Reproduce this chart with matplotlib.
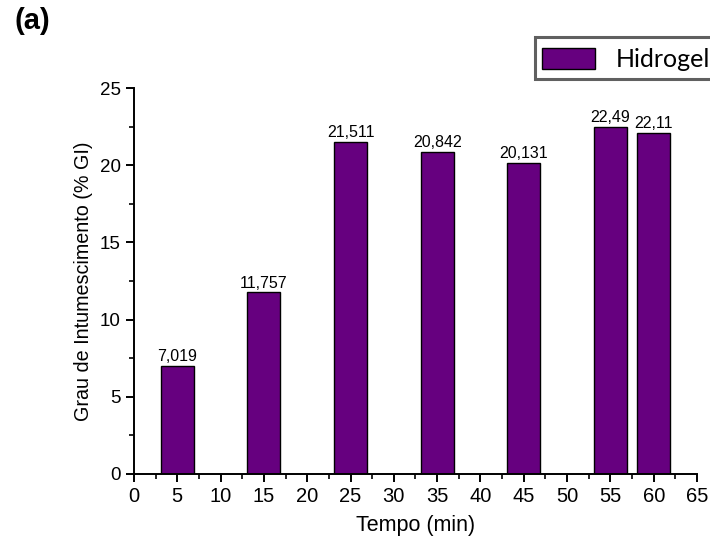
import matplotlib.pyplot as plt
from matplotlib.patches import Patch, Rectangle
from matplotlib.ticker import MultipleLocator

# Swelling degree of the hydrogel over time
tempo = [5, 15, 25, 35, 45, 55, 60]
grau = [7.019, 11.757, 21.511, 20.842, 20.131, 22.49, 22.11]
rotulos = ["7,019", "11,757", "21,511", "20,842", "20,131", "22,49", "22,11"]

plt.rcParams["font.family"] = ["Liberation Sans", "DejaVu Sans"]

W, H = 710, 538
fig = plt.figure(figsize=(W / 100, H / 100), dpi=100)
ax = fig.add_axes([0.1887, 0.119, 0.7930, 0.7174])

cor = "#66007f"
ax.bar(tempo, grau, width=3.8, color=cor, edgecolor="black", linewidth=1.0)

for x, y, txt in zip(tempo, grau, rotulos):
    ax.text(x, y + 0.12, txt, ha="center", va="bottom", fontsize=11.5)

ax.set_xlim(0, 65)
ax.set_ylim(0, 25)
ax.xaxis.set_major_locator(MultipleLocator(5))
ax.xaxis.set_minor_locator(MultipleLocator(2.5))
ax.yaxis.set_major_locator(MultipleLocator(5))
ax.yaxis.set_minor_locator(MultipleLocator(2.5))

for side in ("top", "right"):
    ax.spines[side].set_visible(False)
for side in ("left", "bottom"):
    ax.spines[side].set_linewidth(1.4)

ax.tick_params(which="major", direction="out", length=6, width=1.4)
ax.tick_params(axis="x", which="major", labelsize=14.5)
ax.tick_params(axis="y", which="major", labelsize=13.5)
ax.tick_params(which="minor", direction="out", length=3.5, width=1.2)

ax.set_xlabel("Tempo (min)", fontsize=15.5, labelpad=6)
ax.set_ylabel("Grau de Intumescimento (% GI)", fontsize=14.2, labelpad=5)

fig.text(15 / W, 1 - 7 / H, "(a)", fontsize=21, fontweight="bold", va="top", ha="left")

# legend frame drawn by hand (runs off the right edge as in the original)
fig.patches.append(Rectangle((535 / W, 1 - 79 / H), 180 / W, 42 / H,
                             transform=fig.transFigure, facecolor="white",
                             edgecolor="#606060", linewidth=2.2))
fig.legend(
    handles=[Patch(facecolor=cor, edgecolor="black", label="Hidrogel")],
    loc="upper left",
    bbox_to_anchor=(542 / W, 1 - 48 / H),
    frameon=False,
    borderpad=0,
    borderaxespad=0,
    handlelength=2.1,
    handleheight=0.9,
    handletextpad=0.85,
    prop={"family": "Lato", "size": 18},
)

fig.savefig("out.png", dpi=100)
